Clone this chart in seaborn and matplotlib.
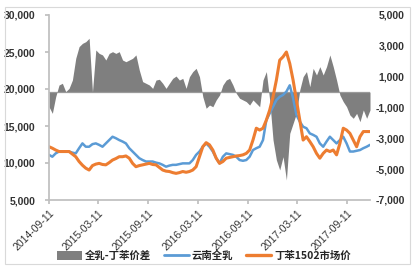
import numpy as np
import pandas as pd
import matplotlib
matplotlib.use("Agg")
import matplotlib.pyplot as plt
from matplotlib.patches import Rectangle, Patch
from matplotlib.lines import Line2D
import seaborn as sns

# ---------------- data ----------------
start_date = "2014-09-11"
end_date = "2017-12-04"

spread = [-950, -1380, -300, 460, 570, 30, 240, 780, 2190, 2950,
          3160, 3270, 3490, 0, 2730, 2510, 2410, 2080, 2510, 2620,
          2510, 2620, 2080, 1970, 2080, 2190, 2410, 1430, 680, 570,
          460, 240, 780, 830, 570, 240, 570, 890, 1040, 780,
          890, 240, 1000, 1330, 1540, 1000, -300, -1050, -840, -950,
          -510, -190, 460, 780, 890, 460, -80, -400, -510, -620,
          -840, -510, -730, -950, 780, 1330, -510, -3100, -4400, -5050,
          -4190, -5700, -2680, -2030, -1380, 140, 1000, 1330, 350, 1540,
          1110, 1650, 1110, 1650, 2410, 1650, 780, -190, -620, -950,
          -1490, -1700, -1380, -1920, -1160, -1700, -1160]

yunnan = [11100, 10850, 11300, 11550, 11550, 11550, 11550, 11400, 11300, 12000,
          12650, 12200, 12200, 12550, 12650, 12450, 12200, 12650, 13100, 13550,
          13350, 13100, 12900, 12650, 12000, 11550, 11100, 10650, 10400, 10200,
          10200, 10200, 10050, 9950, 9750, 9500, 9650, 9750, 9750, 9850,
          9950, 9950, 9950, 10400, 11100, 11550, 12200, 12650, 12200, 11550,
          10650, 9950, 10850, 11300, 11200, 11100, 10850, 10400, 10300, 10400,
          10850, 11750, 12000, 12200, 13100, 15800, 16700, 17600, 18500, 18950,
          19200, 19650, 20500, 18750, 16500, 15600, 14900, 14700, 14000, 13800,
          13550, 12650, 12200, 12900, 13550, 13100, 12650, 13100, 13550, 12650,
          11550, 11550, 11650, 11750, 12000, 12200, 12450]

sbr1502 = [12200, 12000, 11750, 11550, 11550, 11550, 11550, 11200, 10850, 10200,
           9700, 9300, 9050, 9650, 9850, 9950, 9800, 9750, 10050, 10400,
           10600, 10850, 10850, 10950, 10650, 9950, 9500, 9650, 9750, 9850,
           9950, 9800, 9750, 9400, 9050, 8900, 8850, 8700, 8600, 8700,
           8850, 8750, 8850, 9050, 9500, 10850, 12200, 12750, 12450, 11750,
           10650, 9950, 10200, 10650, 10750, 10850, 10950, 11000, 11100, 11300,
           11750, 13100, 14700, 14450, 14700, 15800, 17150, 18950, 21200, 23900,
           24350, 25000, 23450, 21200, 18500, 15800, 13100, 13550, 12900, 12200,
           11300, 10650, 11300, 11750, 11550, 11750, 11100, 12650, 14700, 14450,
           14000, 13100, 12200, 13550, 14250, 14250, 14250]

tick_dates = ["2014-09-11", "2015-03-11", "2015-09-11", "2016-03-11",
              "2016-09-11", "2017-03-11", "2017-09-11"]
left_ticks = [5000, 10000, 15000, 20000, 25000, 30000]
right_ticks = [-7000, -5000, -3000, -1000, 1000, 3000, 5000]

labels = ["全乳-丁苯价差", "云南全乳", "丁苯1502市场价"]
c_gray, c_blue, c_orange = "#7f7f7f", "#5b9bd5", "#ed7d31"

dates = pd.date_range(start_date, end_date, periods=len(yunnan))
df = pd.DataFrame({"date": dates, "spread": spread,
                   "yunnan": yunnan, "sbr": sbr1502})

# ---------------- plot ----------------
sns.set_theme(style="white")
plt.rcParams["font.family"] = ["Liberation Sans", "Noto Sans CJK SC", "DejaVu Sans"]

fig = plt.figure(figsize=(4.16, 2.70), dpi=100)
ax = fig.add_axes([49 / 416, 1 - 200 / 270, (370 - 49) / 416, (200 - 15) / 270])
ax2 = ax.twinx()

# spread area on secondary axis
ax2.fill_between(df["date"], 0, df["spread"], color=c_gray, linewidth=0)
ax2.axhline(0, color="#9a9a9a", lw=0.9)
ax2.set_ylim(-7000, 5000)
ax2.set_yticks(right_ticks)
ax2.set_yticklabels([f"{v:,}" for v in right_ticks], ha="right",
                    fontsize=7.5, fontweight="bold", color="#333333")
ax2.tick_params(axis="y", length=0, pad=25)

# price lines on primary axis (drawn above the area)
sns.lineplot(data=df, x="date", y="yunnan", ax=ax, color=c_blue, lw=1.8)
sns.lineplot(data=df, x="date", y="sbr", ax=ax, color=c_orange, lw=2.2)
ax.set_zorder(ax2.get_zorder() + 1)
ax.patch.set_visible(False)

ax.set_ylim(5000, 30000)
ax.set_yticks(left_ticks)
ax.set_yticklabels([f"{v:,}" for v in left_ticks], fontsize=7.5,
                   fontweight="bold", color="#333333")
ax.set_xlim(dates[0], dates[-1])
ax.set_xticks(pd.to_datetime(tick_dates))
ax.set_xticklabels(tick_dates, rotation=45, ha="right", va="top",
                   rotation_mode="anchor", fontsize=7.5, color="#333333")
ax.set_xlabel("")
ax.set_ylabel("")
ax2.set_ylabel("")

for a in (ax, ax2):
    for s in a.spines.values():
        s.set_visible(False)
ax.spines["left"].set_visible(True)
ax.spines["bottom"].set_visible(True)
ax.spines["left"].set_color("#bfbfbf")
ax.spines["bottom"].set_color("#bfbfbf")
ax.tick_params(axis="y", direction="out", length=3, color="#bfbfbf", pad=7, left=True)
ax.tick_params(axis="x", direction="out", length=3, color="#bfbfbf", pad=3, bottom=True)

# legend
handles = [Patch(facecolor=c_gray, edgecolor="none"),
           Line2D([], [], color=c_blue, lw=2),
           Line2D([], [], color=c_orange, lw=2.4)]
fig.legend(handles, labels, loc="center", bbox_to_anchor=(0.49, 0.052), ncol=3,
           frameon=False, prop={"family": ["Noto Sans CJK SC", "DejaVu Sans"],
                                "size": 7.5, "weight": "bold"},
           handlelength=2.4, handleheight=0.9, columnspacing=1.2, handletextpad=0.3)

# chart frame
fig.patches.append(Rectangle((5 / 416, 1 - 264 / 270), 405 / 416, 257 / 270,
                             transform=fig.transFigure, fill=False,
                             edgecolor="#d9d9d9", lw=0.8))

fig.savefig("out.png", dpi=100)
